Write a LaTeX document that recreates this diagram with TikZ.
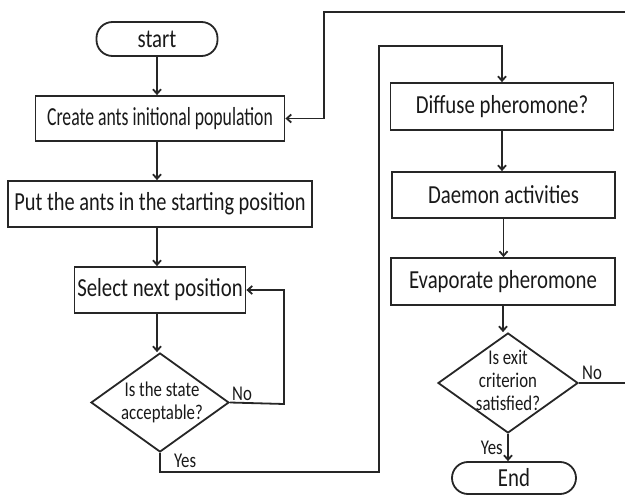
\documentclass[tikz,border=0pt]{standalone}
\usepackage{graphicx}
\usepackage{fontspec}
\setmainfont[FakeStretch=0.8]{Carlito}
\usetikzlibrary{arrows.meta,shapes.geometric}
\begin{document}
\begin{tikzpicture}[x=1pt,y=-1pt,
  every node/.style={font=\fontsize{26}{30}\selectfont, text=black!90},
  proc/.style={draw=black!85, line width=1.8pt, rectangle, inner sep=0pt},
  term/.style={draw=black!85, line width=1.8pt, rectangle, rounded corners=16pt, inner sep=0pt},
  dia/.style={draw=black!85, line width=1.8pt, diamond, inner sep=0pt},
  diatext/.style={align=center, font=\fontsize{21}{23}\selectfont},
  lbl/.style={font=\fontsize{21}{24}\selectfont, inner sep=0pt},
  conn/.style={draw=black!85, line width=1.8pt},
  arr/.style={conn, -{Straight Barb[length=4.5pt,width=8pt]}}
]
\useasboundingbox (0,0) rectangle (625,495);
% left column
\node[term, minimum width=121, minimum height=34] (start) at (157,39) {start};
\node[proc, minimum width=249, minimum height=45] (create) at (160,118.5) {\scalebox{0.85}[1]{Create ants initional population}};
\node[proc, minimum width=304, minimum height=46] (put) at (160,204) {\scalebox{0.98}[1]{Put the ants in the starting position}};
\node[proc, minimum width=171, minimum height=46] (select) at (160,290) {Select next position};
\node[dia, minimum width=138, minimum height=99] (d1) at (160,402.5) {};
\node[diatext] (d1t) at (162,402) {Is the state\\acceptable?};
% right column
\node[proc, minimum width=223, minimum height=47] (diffuse) at (502,106.5) {Diffuse pheromone?};
\node[proc, minimum width=223, minimum height=46] (daemon) at (503.5,195) {Daemon activities};
\node[proc, minimum width=224, minimum height=47] (evap) at (503,281.5) {Evaporate pheromone};
\node[dia, minimum width=140, minimum height=100] (d2) at (508,383) {};
\node[diatext] (d2t) at (508,380.5) {Is exit\\criterion\\satisfied?};
\node[term, minimum width=124, minimum height=32] (end) at (514,478) {End};
% labels
\node[lbl, anchor=south west] (no1) at (232,401) {No};
\node[lbl, anchor=west] (yes1) at (174,461) {Yes};
\node[lbl, anchor=south west] (no2) at (582,380) {No};
\node[lbl, anchor=east] (yes2) at (503,448) {Yes};
% helper coordinates
\coordinate (n1) at (284,404);
\coordinate (y1) at (379,472);
\coordinate (y2) at (379,46);
\coordinate (r2) at (628,12);
\coordinate (r3) at (324,12);
% connectors
\draw[arr] (start.south) -- (start.south |- create.north);
\draw[arr] (create.south -| start.south) -- (put.north -| start.south);
\draw[arr] (put.south -| start.south) -- (select.north -| start.south);
\draw[arr] (select.south -| start.south) -- (d1.north -| start.south);
\draw[arr] (d1.east) -- (n1) |- (select.east);
\draw[arr] (d1.south) |- (y1) -- (y2) -| (diffuse.north);
\draw[arr] (diffuse.south) -- (diffuse.south |- daemon.north);
\draw[arr] (daemon.south) -- (daemon.south |- evap.north);
\draw[arr] (evap.south) -- (evap.south |- d2.north);
\draw[arr] (d2.south) -- (d2.south |- end.north);
\draw[arr] (d2.east) -| (r2) -- (r3) |- (create.east);
\end{tikzpicture}
\end{document}
